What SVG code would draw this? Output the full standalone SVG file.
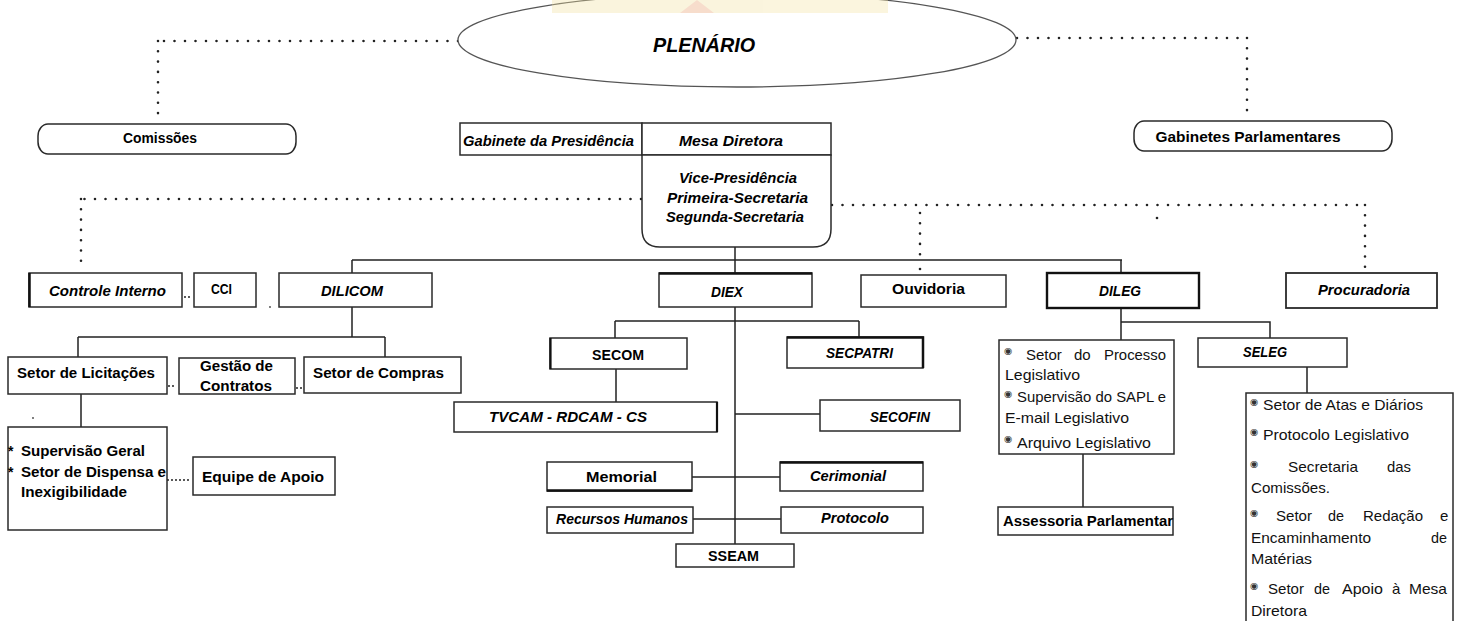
<svg xmlns="http://www.w3.org/2000/svg" width="1464" height="621" viewBox="0 0 1464 621">
<style>
.bx{fill:#fff;stroke:#2a2a2a;stroke-width:1.5}
.bk{fill:#fff;stroke:#111;stroke-width:2.4}
.ln{fill:none;stroke:#222;stroke-width:1.5}
.dt{fill:none;stroke:#222;stroke-width:2.6;stroke-linecap:round;stroke-dasharray:0 10.5}
.dv{fill:none;stroke:#222;stroke-width:2.6;stroke-linecap:round;stroke-dasharray:0 10.3}
.t{font-family:"Liberation Sans",Arial,sans-serif;font-weight:bold;font-size:14px;fill:#000}
.ti{font-family:"Liberation Sans",Arial,sans-serif;font-weight:bold;font-style:italic;font-size:14px;fill:#000}
.big{font-size:21px}
.r{font-family:"Liberation Sans",Arial,sans-serif;font-size:15px;fill:#111}
.bu{font-family:"DejaVu Sans",sans-serif;font-size:9.5px;fill:#333}
.c{text-anchor:middle}
</style>
<rect width="1464" height="621" fill="#fff"/>
<g id="connectors">
<path class="dt" d="M458,41 H158"/>
<path class="dv" d="M158,41 V114"/>
<path class="dt" d="M1017,38 H1247"/>
<path class="dv" d="M1247,38 V111"/>
<path class="dt" d="M641,199 H81"/>
<path class="dv" d="M81,199 V262"/>
<path class="dt" d="M832,205 H1365"/>
<path class="dv" d="M1365,205 V267"/>
<path class="dv" d="M920,213 V255"/>
<circle cx="920" cy="269" r="1.3" fill="#222"/>
<circle cx="1157" cy="218" r="1.3" fill="#222"/>
<circle cx="270" cy="307" r="0.9" fill="#444"/>
<circle cx="33" cy="418" r="0.9" fill="#444"/>
<path class="ln" d="M735,246 V260 M352,260 H1122 M352,260 V273 M735,260 V273 M1121,260 V273"/>
<path class="ln" d="M352,307 V337 M78,337 H385 M78,337 V357 M385,337 V357 M81,394 V427"/>
<path class="ln" d="M735,307 V544 M615,321 H859 M615,321 V338 M859,321 V337 M616,369 V402 M735,414 H820 M692,477 H780 M693,519 H781"/>
<path class="ln" d="M1121,308 V340 M1121,322 H1270 V338 M1083,454 V507 M1307,367 V393"/>
<path class="dt" style="stroke-width:2;stroke-dasharray:0 4" d="M185,297 H191 M169,386 H176 M297,388 H303 M168,480 H192"/>
</g>
<g id="plenario">
<ellipse cx="737" cy="40" rx="279" ry="47" fill="#fff" stroke="#555" stroke-width="1.3"/>
<g id="watermark" opacity="0.35">
<rect x="552" y="0" width="336" height="13" fill="#f3e2a0"/>
<polygon points="680,13 697,0 714,13" fill="#e9a070"/>
</g>
<text class="ti big" x="653" y="52" textLength="102" lengthAdjust="spacingAndGlyphs">PLENÁRIO</text>
</g>
<g id="comissoes">
<rect class="bx" x="38" y="124" width="258" height="30" rx="10" ry="12"/>
<text class="t c" x="160" y="143" textLength="74" lengthAdjust="spacingAndGlyphs">Comissões</text>
</g>
<g id="gabinetes-parlamentares">
<rect class="bx" x="1134" y="121" width="258" height="30" rx="10" ry="12"/>
<text class="t c" x="1248" y="142" textLength="185" lengthAdjust="spacingAndGlyphs">Gabinetes Parlamentares</text>
</g>
<g id="gabinete-presidencia">
<rect class="bx" x="460" y="123" width="182" height="32"/>
<text class="ti" x="463" y="146" textLength="171" lengthAdjust="spacingAndGlyphs">Gabinete da Presidência</text>
</g>
<g id="mesa-diretora">
<rect class="bx" x="642" y="123" width="189" height="32"/>
<path class="bx" d="M642,155 H831 V229 Q831,247 813,247 H660 Q642,247 642,229 Z"/>
<text class="ti" x="679" y="146" textLength="104" lengthAdjust="spacingAndGlyphs">Mesa Diretora</text>
<text class="ti" x="679" y="183" textLength="118" lengthAdjust="spacingAndGlyphs">Vice-Presidência</text>
<text class="ti" x="667" y="203" textLength="141" lengthAdjust="spacingAndGlyphs">Primeira-Secretaria</text>
<text class="ti" x="666" y="222" textLength="138" lengthAdjust="spacingAndGlyphs">Segunda-Secretaria</text>
</g>
<g id="controle-interno">
<rect class="bx" x="29" y="273" width="153" height="34"/>
<path d="M29.5,273 V307" stroke="#111" stroke-width="2.5"/>
<text class="ti" x="49" y="296" textLength="117" lengthAdjust="spacingAndGlyphs">Controle Interno</text>
</g>
<g id="cci">
<rect class="bx" x="194" y="273" width="62" height="34"/>
<text class="t" x="211" y="294" textLength="21" lengthAdjust="spacingAndGlyphs">CCI</text>
</g>
<g id="dilicom">
<rect class="bx" x="279" y="273" width="153" height="34"/>
<text class="ti" x="321" y="296" textLength="62" lengthAdjust="spacingAndGlyphs">DILICOM</text>
</g>
<g id="diex">
<rect class="bx" x="659" y="273" width="153" height="34"/>
<path d="M659,273.5 H812" stroke="#111" stroke-width="2.5"/>
<text class="ti" x="711" y="297" textLength="32" lengthAdjust="spacingAndGlyphs">DIEX</text>
</g>
<g id="ouvidoria">
<rect class="bx" x="861" y="275" width="145" height="32"/>
<text class="t" x="892" y="294" textLength="73" lengthAdjust="spacingAndGlyphs">Ouvidoria</text>
</g>
<g id="dileg">
<rect class="bk" x="1047" y="273" width="152" height="35"/>
<text class="ti" x="1099" y="296" textLength="42" lengthAdjust="spacingAndGlyphs">DILEG</text>
</g>
<g id="procuradoria">
<rect class="bx" x="1286" y="273" width="151" height="35" style="stroke-width:1.8"/>
<text class="ti" x="1318" y="295" textLength="92" lengthAdjust="spacingAndGlyphs">Procuradoria</text>
</g>
<g id="setor-licitacoes">
<rect class="bx" x="8" y="357" width="159" height="37"/>
<text class="t" x="17" y="378" textLength="138" lengthAdjust="spacingAndGlyphs">Setor de Licitações</text>
</g>
<g id="gestao-contratos">
<rect class="bx" x="179" y="358" width="116" height="36"/>
<text class="t" x="200" y="371" textLength="73" lengthAdjust="spacingAndGlyphs">Gestão de</text>
<text class="t" x="200" y="391" textLength="72" lengthAdjust="spacingAndGlyphs">Contratos</text>
</g>
<g id="setor-compras">
<rect class="bx" x="304" y="357" width="157" height="36"/>
<text class="t" x="313" y="378" textLength="131" lengthAdjust="spacingAndGlyphs">Setor de Compras</text>
</g>
<g id="supervisao-geral">
<rect class="bx" x="8" y="427" width="159" height="103"/>
<text class="t" x="8" y="456">*</text>
<text class="t" x="21" y="456" textLength="124" lengthAdjust="spacingAndGlyphs">Supervisão Geral</text>
<text class="t" x="8" y="477">*</text>
<text class="t" x="21" y="477" textLength="145" lengthAdjust="spacingAndGlyphs">Setor de Dispensa e</text>
<text class="t" x="21" y="497" textLength="106" lengthAdjust="spacingAndGlyphs">Inexigibilidade</text>
</g>
<g id="equipe-apoio">
<rect class="bx" x="193" y="457" width="142" height="38"/>
<text class="t" x="202" y="482" textLength="122" lengthAdjust="spacingAndGlyphs">Equipe de Apoio</text>
</g>
<g id="secom">
<rect class="bx" x="550" y="338" width="137" height="31"/>
<path d="M550.5,338 V369" stroke="#111" stroke-width="2.2"/>
<text class="t" x="592" y="360" textLength="52" lengthAdjust="spacingAndGlyphs">SECOM</text>
</g>
<g id="tvcam">
<rect class="bx" x="454" y="402" width="263" height="30"/>
<path d="M717,402 V432" stroke="#111" stroke-width="2.2"/>
<text class="ti" x="489" y="422" textLength="158" lengthAdjust="spacingAndGlyphs">TVCAM - RDCAM -  CS</text>
</g>
<g id="secpatri">
<rect class="bx" x="787" y="337" width="136" height="31"/>
<path d="M787,337.5 H923 V368" fill="none" stroke="#111" stroke-width="2.5"/>
<text class="ti" x="826" y="358" textLength="67" lengthAdjust="spacingAndGlyphs">SECPATRI</text>
</g>
<g id="secofin">
<rect class="bx" x="820" y="400" width="140" height="31"/>
<text class="ti" x="870" y="422" textLength="60" lengthAdjust="spacingAndGlyphs">SECOFIN</text>
</g>
<g id="memorial">
<rect class="bx" x="547" y="462" width="145" height="29"/>
<path d="M547,490.5 H692" stroke="#111" stroke-width="2.5"/>
<text class="t" x="586" y="482" textLength="71" lengthAdjust="spacingAndGlyphs">Memorial</text>
</g>
<g id="cerimonial">
<rect class="bx" x="780" y="462" width="143" height="29"/>
<path d="M780,462.5 H923" stroke="#111" stroke-width="2.5"/>
<text class="ti" x="810" y="481" textLength="76" lengthAdjust="spacingAndGlyphs">Cerimonial</text>
</g>
<g id="recursos-humanos">
<rect class="bx" x="547" y="507" width="146" height="26"/>
<text class="ti" x="556" y="524" textLength="132" lengthAdjust="spacingAndGlyphs">Recursos Humanos</text>
</g>
<g id="protocolo">
<rect class="bx" x="781" y="507" width="142" height="26"/>
<text class="ti" x="821" y="523" textLength="68" lengthAdjust="spacingAndGlyphs">Protocolo</text>
</g>
<g id="sseam">
<rect class="bx" x="676" y="544" width="118" height="23"/>
<text class="t" x="708" y="561" textLength="51" lengthAdjust="spacingAndGlyphs">SSEAM</text>
</g>
<g id="dileg-setores">
<rect class="bx" x="999" y="340" width="175" height="114"/>
<text class="bu" x="1004" y="354">◉</text>
<text class="r" x="1026" y="360">Setor</text>
<text class="r" x="1074" y="360">do</text>
<text class="r" x="1104" y="360" textLength="62" lengthAdjust="spacingAndGlyphs">Processo</text>
<text class="r" x="1005" y="380" textLength="75" lengthAdjust="spacingAndGlyphs">Legislativo</text>
<text class="bu" x="1004" y="397">◉</text>
<text class="r" x="1017" y="402" textLength="149" lengthAdjust="spacingAndGlyphs">Supervisão do SAPL e</text>
<text class="r" x="1005" y="423" textLength="124" lengthAdjust="spacingAndGlyphs">E-mail Legislativo</text>
<text class="bu" x="1004" y="442">◉</text>
<text class="r" x="1017" y="448" textLength="134" lengthAdjust="spacingAndGlyphs">Arquivo Legislativo</text>
</g>
<g id="assessoria-parlamentar">
<rect class="bx" x="998" y="507" width="175" height="28"/>
<text class="t" x="1003" y="526" textLength="170" lengthAdjust="spacingAndGlyphs">Assessoria Parlamentar</text>
</g>
<g id="seleg">
<rect class="bx" x="1198" y="338" width="149" height="29"/>
<text class="ti" x="1243" y="357" textLength="44" lengthAdjust="spacingAndGlyphs">SELEG</text>
</g>
<g id="seleg-setores">
<rect class="bx" x="1246" y="393" width="207" height="240"/>
<text class="bu" x="1250" y="405">◉</text>
<text class="r" x="1263" y="410" textLength="160" lengthAdjust="spacingAndGlyphs">Setor de Atas e Diários</text>
<text class="bu" x="1250" y="435">◉</text>
<text class="r" x="1263" y="440" textLength="146" lengthAdjust="spacingAndGlyphs">Protocolo Legislativo</text>
<text class="bu" x="1250" y="467">◉</text>
<text class="r" x="1288" y="472" textLength="70" lengthAdjust="spacingAndGlyphs">Secretaria</text>
<text class="r" x="1387" y="472" textLength="24" lengthAdjust="spacingAndGlyphs">das</text>
<text class="r" x="1251" y="493" textLength="79" lengthAdjust="spacingAndGlyphs">Comissões.</text>
<text class="bu" x="1250" y="516">◉</text>
<text class="r" x="1276" y="521" textLength="36" lengthAdjust="spacingAndGlyphs">Setor</text>
<text class="r" x="1328" y="521" textLength="16" lengthAdjust="spacingAndGlyphs">de</text>
<text class="r" x="1363" y="521" textLength="60" lengthAdjust="spacingAndGlyphs">Redação</text>
<text class="r" x="1440" y="521">e</text>
<text class="r" x="1251" y="543" textLength="120" lengthAdjust="spacingAndGlyphs">Encaminhamento</text>
<text class="r" x="1431" y="543" textLength="16" lengthAdjust="spacingAndGlyphs">de</text>
<text class="r" x="1251" y="564" textLength="61" lengthAdjust="spacingAndGlyphs">Matérias</text>
<text class="bu" x="1250" y="589">◉</text>
<text class="r" x="1268" y="594" textLength="36" lengthAdjust="spacingAndGlyphs">Setor</text>
<text class="r" x="1314" y="594" textLength="16" lengthAdjust="spacingAndGlyphs">de</text>
<text class="r" x="1342" y="594" textLength="41" lengthAdjust="spacingAndGlyphs">Apoio</text>
<text class="r" x="1392" y="594">à</text>
<text class="r" x="1409" y="594" textLength="38" lengthAdjust="spacingAndGlyphs">Mesa</text>
<text class="r" x="1251" y="616" textLength="56" lengthAdjust="spacingAndGlyphs">Diretora</text>
</g>
</svg>
